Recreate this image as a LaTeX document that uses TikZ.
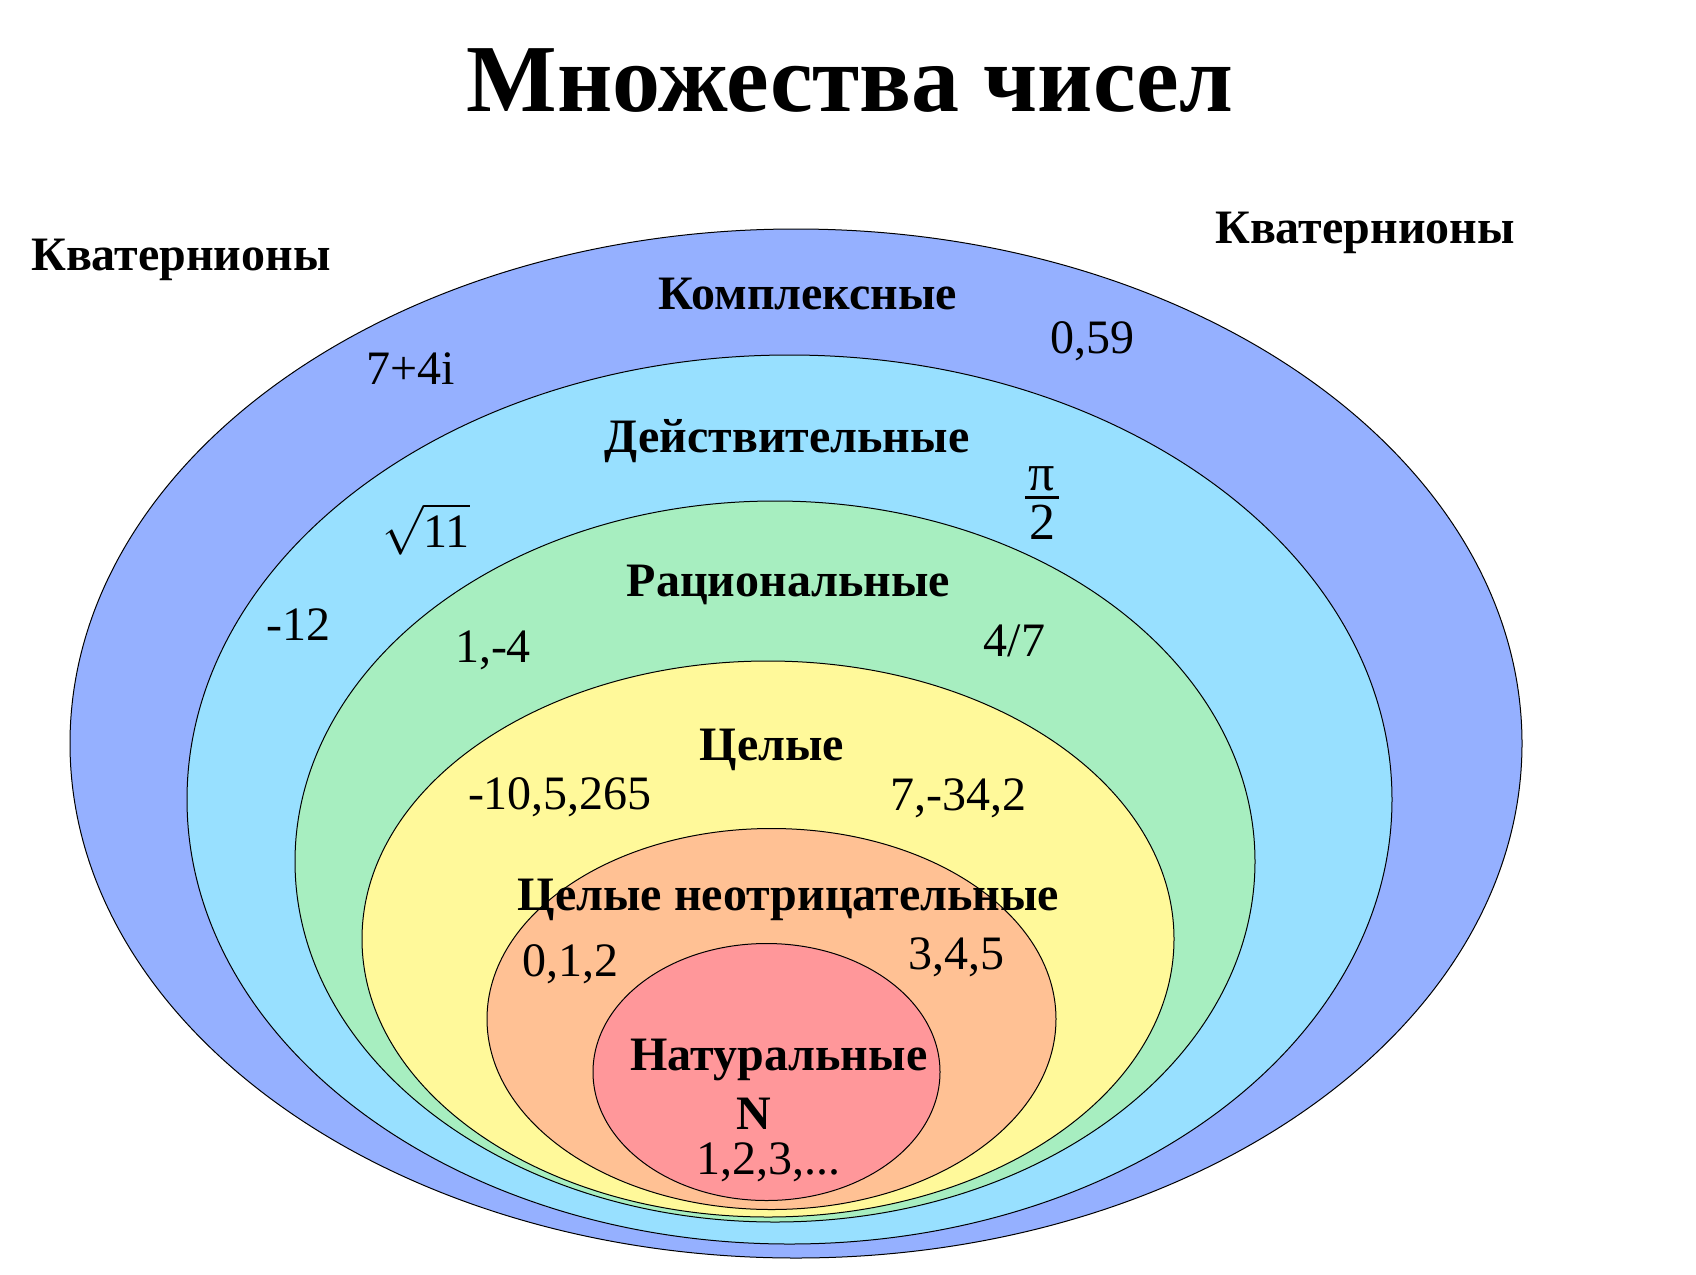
\documentclass[tikz,border=0pt]{standalone}
\usepackage{fontspec}
\setmainfont{Liberation Serif}
\begin{document}
\begin{tikzpicture}[x=0.5pt,y=-0.5pt,
  ring/.style={draw=black,line width=0.5pt},
  lbl/.style={font=\fontsize{24}{28}\selectfont\bfseries,inner sep=0pt},
  num/.style={font=\fontsize{24}{28}\selectfont,inner sep=0pt},
  ttl/.style={font=\fontsize{48}{56}\selectfont\bfseries,inner sep=0pt}]
\definecolor{cq}{RGB}{149,176,255}
\definecolor{cr}{RGB}{152,224,255}
\definecolor{cg}{RGB}{167,238,192}
\definecolor{cy}{RGB}{255,249,154}
\definecolor{co}{RGB}{255,193,148}
\definecolor{cn}{RGB}{255,151,154}
\useasboundingbox (0,0) rectangle (1696,1274);
\fill[white] (0,0) rectangle (1696,1274);
\filldraw[ring,fill=cq] (796,743.5) ellipse [x radius=726, y radius=514.5];
\filldraw[ring,fill=cr] (789.5,799.5) ellipse [x radius=602.5, y radius=444.5];
\filldraw[ring,fill=cg] (775,861.5) ellipse [x radius=480, y radius=360.5];
\filldraw[ring,fill=cy] (768,939) ellipse [x radius=406, y radius=278];
\filldraw[ring,fill=co] (771.5,1019) ellipse [x radius=284.5, y radius=190.5];
\filldraw[ring,fill=cn] (766.5,1072) ellipse [x radius=173.5, y radius=128.5];
\node[ttl] (title) at (850,81) {Множества чисел};
\node[lbl] (qL) at (181,260) {Кватернионы};
\node[lbl] (qR) at (1365,232.5) {Кватернионы};
\node[lbl] (c) at (808,294) {Комплексные};
\node[num] (c1) at (411,369) {7+4i};
\node[num] (c2) at (1092,341) {0,59};
\node[lbl] (r) at (787,441) {Действительные};
\node[num,font=\fontsize{26}{30}\selectfont] (r1) at (1042,503) {\vbox{\hbox to 17pt{\hfil π\hfil}\kern2.5pt\hrule height1.5pt\kern3pt\hbox to 17pt{\hfil 2\hfil}}};
\node[num] (r2) at (426,529) {$\sqrt{\mbox{11}}$};
\node[num] (r3) at (298.5,625) {-12};
\node[lbl] (q) at (788.5,585) {Рациональные};
\node[num] (q1) at (493,650) {1,-4};
\node[num] (q2) at (1014.5,641) {4/7};
\node[lbl] (z) at (772,750) {Целые};
\node[num] (z1) at (560,797) {-10,5,265};
\node[num] (z2) at (958,798) {7,-34,2};
\node[lbl] (z0) at (788.5,900) {Целые неотрицательные};
\node[num] (z01) at (570,964) {0,1,2};
\node[num] (z02) at (956,957) {3,4,5};
\node[lbl] (n) at (779,1060) {Натуральные};
\node[lbl] (nN) at (754,1114) {N};
\node[num] (n1) at (768,1162) {1,2,3,...};
\end{tikzpicture}
\end{document}
